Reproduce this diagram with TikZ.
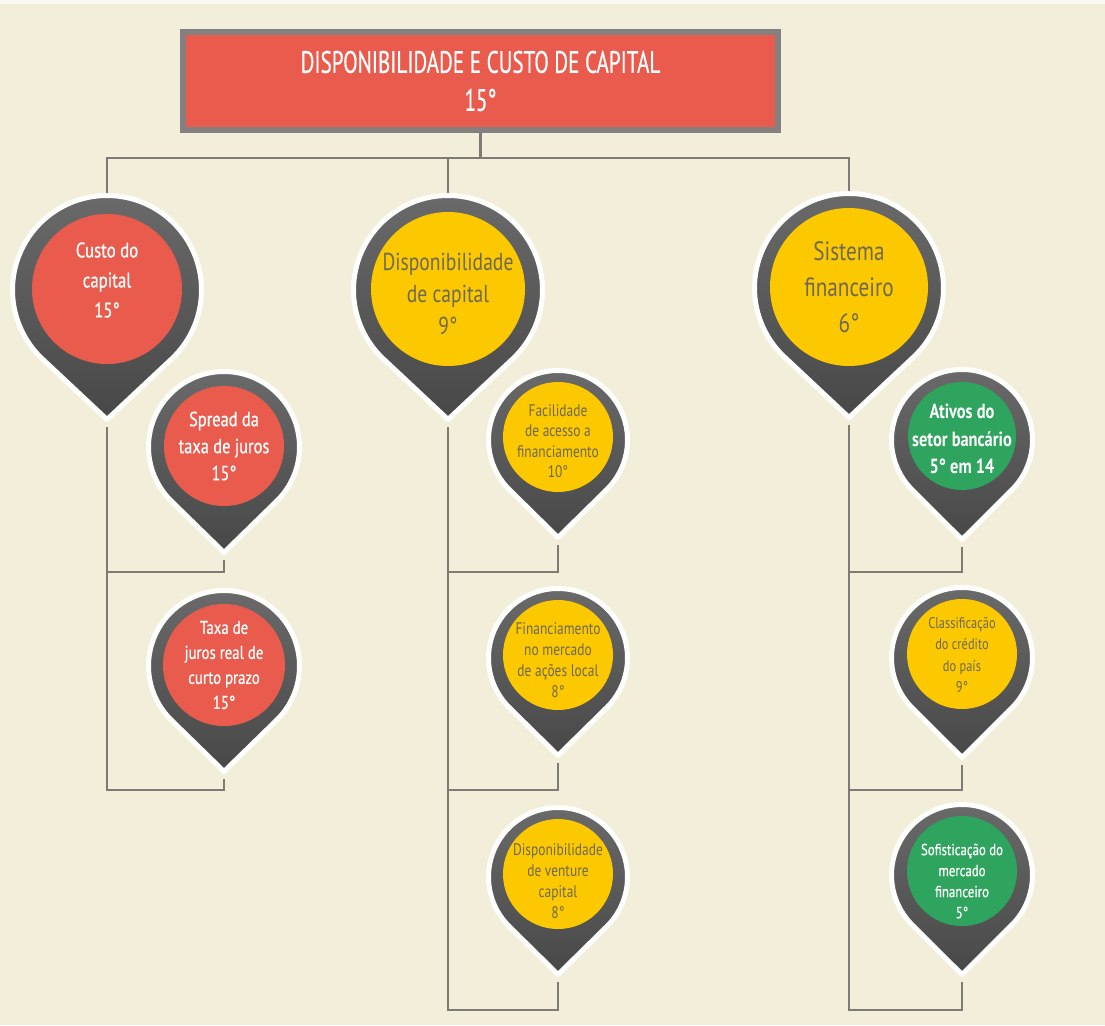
\documentclass[tikz,border=0pt]{standalone}
\usepackage{fontspec}
\setmainfont[FakeStretch=0.8]{PT Sans}
\newfontfamily\hdrfont[FakeStretch=0.68,FakeBold=0.5]{PT Sans}
\newfontfamily\medfont[FakeStretch=0.8,FakeBold=0.7]{PT Sans}
\usetikzlibrary{positioning}

\definecolor{cream}{HTML}{F3EED9}
\definecolor{pinred}{HTML}{E95B4D}
\definecolor{pinyellow}{HTML}{FCC900}
\definecolor{pingreen}{HTML}{2FA45F}
\definecolor{linegrey}{HTML}{7E7B76}
\definecolor{boxgrey}{HTML}{858080}
\definecolor{ytext}{HTML}{6E6859}

\tikzset{
  conn/.style={draw=linegrey, line width=2.6pt},
  pinbody/.style={draw=white!92!cream, line width=5pt, line join=round,
    top color=black!58, middle color=black!48, bottom color=black!72},
  disc/.style={circle, inner sep=0pt},
  lbl/.style={inner sep=0pt, align=center},
  hdrbox/.style={draw=boxgrey, line width=6pt, fill=pinred, inner sep=0pt,
    minimum width=595pt, minimum height=98pt, align=center, text=white,
    font=\hdrfont\fontsize{31}{38}\selectfont}
}

% map marker: name, x, y, outer radius, tip distance
\newcommand{\mappin}[5]{%
  \pgfmathsetmacro{\pinr}{#4-2.5}%
  \pgfmathsetmacro{\pind}{#5-2.5}%
  \pgfmathsetmacro{\pinsa}{90-acos(\pinr/\pind)}%
  \pgfmathsetmacro{\pinea}{-270+acos(\pinr/\pind)}%
  \path[pinbody] (#2,{#3+\pind}) -- ([shift={(#2,#3)}]\pinsa:\pinr)
    arc[start angle=\pinsa, end angle=\pinea, radius=\pinr] -- cycle;
  \coordinate (#1-t) at (#2,{#3-#4});
  \coordinate (#1-b) at (#2,{#3+#5+5});
}

\begin{document}
\begin{tikzpicture}[x=1pt, y=-1pt]
  \useasboundingbox (0,0) rectangle (1105,1025);
  \fill[cream] (0,0) rectangle (1105,1025);
  \fill[white!60!cream] (0,0) rectangle (1105,4);

  \node[hdrbox] (hdr) at (480.5,81) {DISPONIBILIDADE E CUSTO DE CAPITAL\\15°};

  % big markers
  \mappin{custo}{107}{290}{97}{132}
  \node[disc, fill=pinred, minimum size=150pt] (custo) at (107,289) {};
  \node[lbl, text=white, font=\medfont\fontsize{21}{30}\selectfont]
    (custo-txt) at ([yshift=9pt]custo) {Custo do\\capital\\15°};
  \mappin{dispo}{448}{290}{97}{132}
  \node[disc, fill=pinyellow, minimum size=154pt] (dispo) at (448,289) {};
  \node[lbl, text=ytext, font=\fontsize{24.5}{32}\selectfont]
    (dispo-txt) at ([yshift=-5pt]dispo) {Disponibilidade\\de capital\\9°};
  \mappin{sist}{849}{288}{97}{132}
  \node[disc, fill=pinyellow, minimum size=158pt] (sist) at (849,287) {};
  \node[lbl, text=ytext, font=\fontsize{26.5}{36}\selectfont]
    (sist-txt) at (sist) {Sistema\\financeiro\\6°};

  % left column
  \mappin{spread}{224}{447}{78}{108}
  \node[disc, fill=pinred, minimum size=120pt] (spread) at (224,446) {};
  \node[lbl, text=white, font=\medfont\fontsize{20.5}{27}\selectfont]
    (spread-txt) at (spread) {Spread da\\taxa de juros\\15°};
  \mappin{taxa}{224}{666}{78}{108}
  \node[disc, fill=pinred, minimum size=122pt] (taxa) at (224,665) {};
  \node[lbl, text=white, font=\medfont\fontsize{18.5}{25}\selectfont]
    (taxa-txt) at (taxa) {Taxa de\\juros real de\\curto prazo\\15°};

  % middle column
  \mappin{facil}{558}{440}{72}{100}
  \node[disc, fill=pinyellow, minimum size=110pt] (facil) at (558,437) {};
  \node[lbl, text=ytext, font=\fontsize{16.8}{20.5}\selectfont]
    (facil-txt) at ([yshift=-4pt]facil) {Facilidade\\de acesso a\\financiamento\\10°};
  \mappin{finmer}{558}{658}{72}{100}
  \node[disc, fill=pinyellow, minimum size=110pt] (finmer) at (558,655) {};
  \node[lbl, text=ytext, font=\fontsize{16.8}{21}\selectfont]
    (finmer-txt) at ([yshift=-5pt]finmer) {Financiamento\\no mercado\\de ações local\\8°};
  \mappin{venture}{558}{877}{72}{100}
  \node[disc, fill=pinyellow, minimum size=110pt] (venture) at (558,874) {};
  \node[lbl, text=ytext, font=\fontsize{16.8}{21}\selectfont]
    (venture-txt) at ([yshift=-7pt]venture) {Disponibilidade\\de venture\\capital\\8°};

  % right column
  \mappin{ativos}{962}{440}{73}{102}
  \node[disc, fill=pingreen, minimum size=108pt] (ativos) at (962,436) {};
  \node[lbl, text=white, font=\bfseries\fontsize{20.5}{27.5}\selectfont]
    (ativos-txt) at ([yshift=-3pt]ativos) {Ativos do\\setor bancário\\5° em 14};
  \mappin{classif}{962}{658}{73}{102}
  \node[disc, fill=pinyellow, minimum size=110pt] (classif) at (962,654) {};
  \node[lbl, text=ytext, font=\fontsize{15.5}{21.5}\selectfont]
    (classif-txt) at ([yshift=-1pt]classif) {Classificação\\do crédito\\do país\\9°};
  \mappin{sofist}{962}{875}{73}{102}
  \node[disc, fill=pingreen, minimum size=110pt] (sofist) at (962,871) {};
  \node[lbl, text=white, font=\medfont\fontsize{16}{21}\selectfont]
    (sofist-txt) at ([yshift=-10pt]sofist) {Sofisticação do\\mercado\\financeiro\\5°};

  % connectors
  \coordinate (bus) at (480.5,158);
  \coordinate (r1) at (0,572);
  \coordinate (r2) at (0,790);
  \coordinate (r3) at (0,1010);
  \draw[conn] (hdr.south) -- (bus);
  \draw[conn] (bus) -| (custo-t);
  \draw[conn] (bus) -| (dispo-t);
  \draw[conn] (bus) -| (sist-t);

  \draw[conn] (spread-b) -- (spread-b |- r1) -| (custo-b);
  \draw[conn] (taxa-b) -- (taxa-b |- r2) -| (custo-b);
  \draw[conn] (facil-b) -- (facil-b |- r1) -| (dispo-b);
  \draw[conn] (finmer-b) -- (finmer-b |- r2) -| (dispo-b);
  \draw[conn] (venture-b) -- (venture-b |- r3) -| (dispo-b);
  \draw[conn] (ativos-b) -- (ativos-b |- r1) -| (sist-b);
  \draw[conn] (classif-b) -- (classif-b |- r2) -| (sist-b);
  \draw[conn] (sofist-b) -- (sofist-b |- r3) -| (sist-b);
\end{tikzpicture}
\end{document}
